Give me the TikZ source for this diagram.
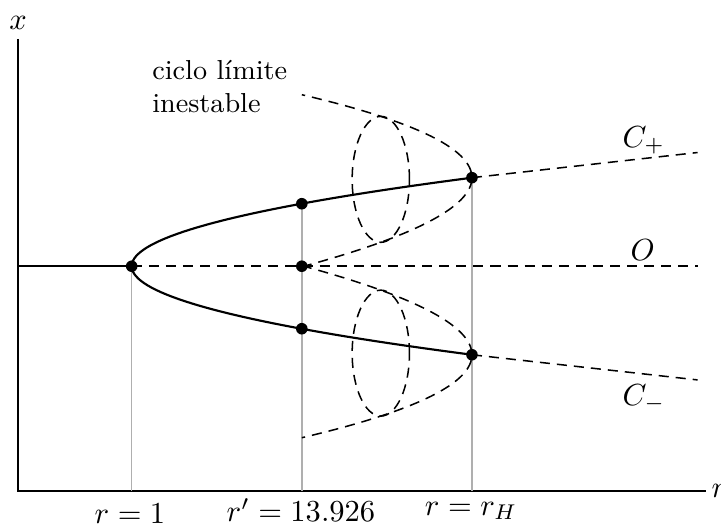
\documentclass[tikz,border=0pt]{standalone}
\usepackage{amsmath,amssymb}
\usepackage{tikz}
\usetikzlibrary{calc, positioning}
\definecolor{guidegray}{RGB}{175,175,175}

\tikzset{
  branch/.style={black, line width=0.7pt},
  unstable/.style={black, dashed, dash pattern=on 3.3pt off 2.3pt, line width=0.5pt},
  guide/.style={guidegray, line width=0.5pt},
  fixpt/.style={circle, fill=black, inner sep=0pt, minimum size=3.8pt},
  axislabel/.style={font=\normalsize, inner sep=0pt},
}

\begin{document}
\begin{tikzpicture}

\useasboundingbox (-0.207,-0.403) rectangle (8.099,5.657);

% branches: x = +-0.515*sqrt(r-1.31), written with t = sqrt(r-1.31)
% t = 1.40 at r' (r = 3.27), t = 1.98 at r_H (r = 5.23)
\coordinate (orig) at (0,0);
\coordinate (ytop) at (0,5.21);
\coordinate (xend) at (7.93,0);
\coordinate (B)  at (1.31, 2.59);
\coordinate (Pu) at (3.27, 3.31);
\coordinate (Po) at (3.27, 2.59);
\coordinate (Pl) at (3.27, 1.87);
\coordinate (Hu) at (5.23, 3.61);
\coordinate (Hl) at (5.23, 1.57);

% axes
\draw[line width=0.6pt] (ytop) -- (orig) -- (xend);
\node[above, inner sep=3pt] (xlab) at (ytop) {$x$};
\node[right, inner sep=1.5pt] (rlab) at (xend) {$r$};

% grey guides down to the r axis
\draw[guide] (B)  -- (B |- orig);
\draw[guide] (Pu) -- (Pu |- orig);
\draw[guide] (Hu) -- (Hu |- orig);

% stable branches
\draw[branch] (0,2.59) -- (B);
\draw[branch] plot[domain=-1.98:1.98, samples=80] ({1.31+(\x)^2}, {2.59+0.515*(\x)});

% unstable branches
\draw[unstable] (B)  -- (7.83,2.59);
\draw[unstable] (Hu) -- (7.83,3.90);
\draw[unstable] (Hl) -- (7.83,1.28);

% unstable limit cycles: x = x_H + 0.708*sqrt(r_H - r), t = sqrt(r_H - r)
\draw[unstable] plot[domain=-1.4:1.4, samples=60]
  ({5.23-(\x)^2}, {3.61-0.018*(\x)^2+0.708*(\x)});
\draw[unstable] plot[domain=-1.4:1.4, samples=60]
  ({5.23-(\x)^2}, {1.57+0.018*(\x)^2-0.708*(\x)});
\draw[unstable] (4.18,3.591) ellipse (0.33 and 0.7255);
\draw[unstable] (4.18,1.589) ellipse (0.33 and 0.7255);

% fixed points
\foreach \p in {B,Pu,Po,Pl,Hu,Hl}
  \node[fixpt] (dot\p) at (\p) {};

% labels
\node[anchor=north west, inner sep=0pt, align=left, font=\small] (cyc) at (1.54,4.97)
  {ciclo límite\\inestable};
\node[axislabel, anchor=base west] (cplus) at (6.96,3.96) {$C_+$};
\node[axislabel, anchor=base west] (ozero) at (7.05,2.66) {$O$};
\node[axislabel, anchor=base west] (cminus) at (6.96,0.99) {$C_-$};
\node[axislabel, anchor=base] (rone) at (1.29,-0.369) {$r=1$};
\node[axislabel, anchor=base] (rprime) at (3.26,-0.35) {$r'=13.926$};
\node[axislabel, anchor=base] (rhopf) at (5.22,-0.276) {$r=r_H$};

\end{tikzpicture}
\end{document}
